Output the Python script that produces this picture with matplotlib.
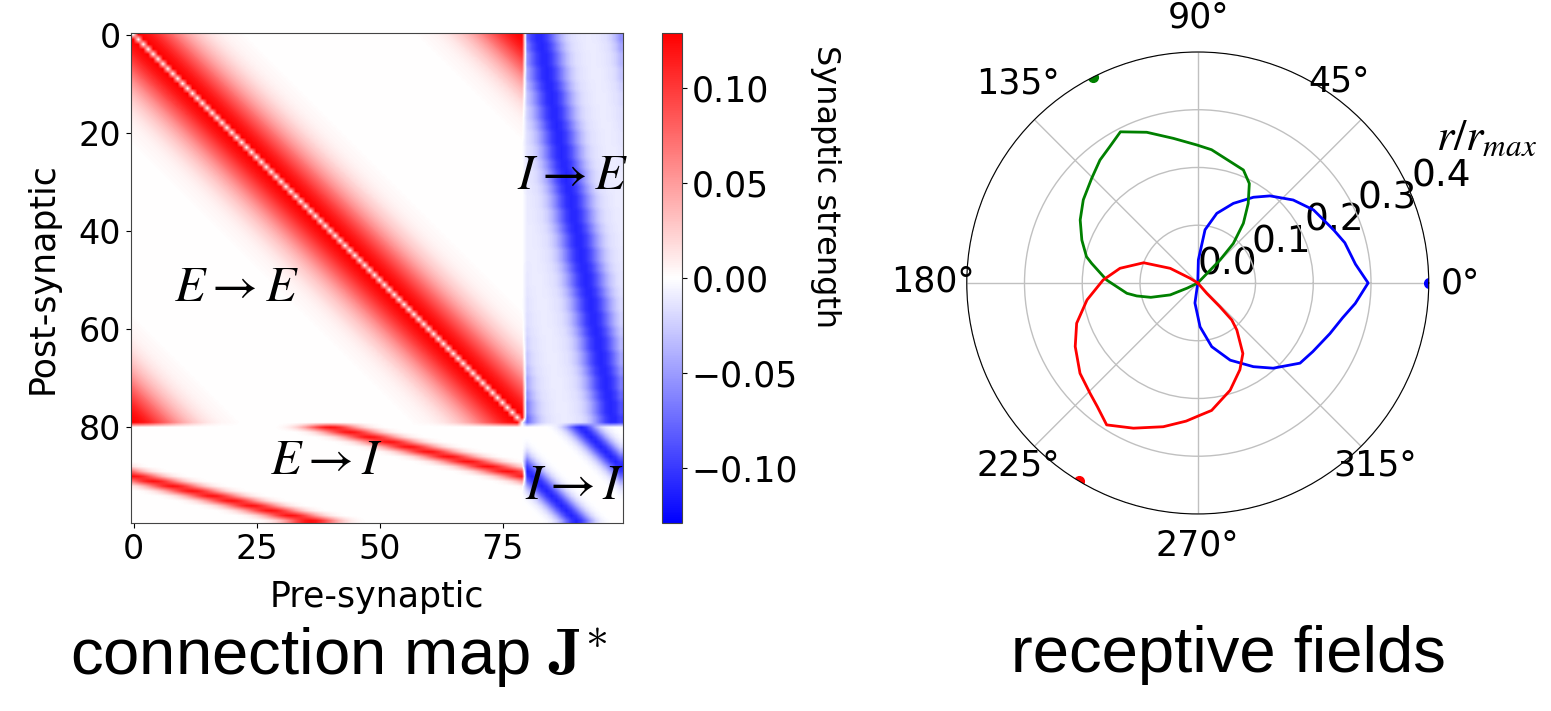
import numpy as np
import matplotlib.pyplot as plt

plt.rcParams['mathtext.fontset'] = 'cm'

n_e = 80
n_i = 20

# strength vs. ring distance
ee_prof = [0.0, 0.129, 0.125, 0.120, 0.113, 0.104, 0.094, 0.084, 0.074, 0.063,
           0.053, 0.044, 0.036, 0.029, 0.023, 0.018, 0.013, 0.010, 0.007, 0.005,
           0.004, 0.003, 0.002]
ei_prof = [0.122, 0.118, 0.106, 0.089, 0.070, 0.051, 0.035, 0.022, 0.013, 0.007,
           0.003, 0.001]
# I->E in half-column steps (0, 0.5, ... 10)
ie_prof = [-0.110, -0.108, -0.104, -0.097, -0.088, -0.077, -0.066, -0.055, -0.045,
           -0.036, -0.029, -0.023, -0.019, -0.016, -0.014, -0.013, -0.012, -0.011,
           -0.010, -0.010, -0.010]
ii_prof = [-0.112, -0.100, -0.075, -0.045, -0.022, -0.009, -0.003, 0.0, 0.0, 0.0, 0.0]

ei_shift = 40     # E column of the band at the first I row
ei_step = 4       # E columns per I row
ie_start = 2.5    # I column of the band at the first E row
ie_step = 0.19    # I columns per E row
ii_shift = 11

# receptive fields (angle in degrees, r / r_max)
blue_th = [-100, -98, -87, -77.6, -67.2, -56.4, -48.5, -38.1, -30.8, -21, -13.5,
           -7.4, 0, 6.8, 15.3, 21.1, 32.3, 41, 50.3, 57, 65.9, 74.7, 82.2, 88.5, 93]
blue_r = [0, 0.035, 0.076, 0.113, 0.145, 0.174, 0.197, 0.225, 0.232, 0.245, 0.258,
          0.275, 0.295, 0.275, 0.264, 0.253, 0.237, 0.219, 0.196, 0.177, 0.151,
          0.125, 0.093, 0.04, 0]
green_th = [45, 45.9, 48, 52.6, 57.6, 62.6, 68, 84.1, 90.4, 99.6, 108.7, 117.1,
            122.8, 128.5, 135.4, 144, 151.8, 159.7, 166.7, 169.5, 178.1, 188.3,
            192, 197, 203.4, 206, 207]
green_r = [0, 0.055, 0.092, 0.13, 0.163, 0.194, 0.211, 0.232, 0.239, 0.254, 0.2755,
           0.294, 0.281, 0.272, 0.258, 0.245, 0.231, 0.214, 0.198, 0.187, 0.158,
           0.124, 0.108, 0.085, 0.052, 0.02, 0]
red_th = [147, 148.6, 152, 159.5, 169.3, 178.2, 188.7, 198.4, 207.4, 217.5, 225.7,
          231, 237.3, 246.1, 256.5, 265.2, 271, 276.2, 286.8, 295.9, 302.6, 309.7,
          312.6, 313, 311, 312]
red_r = [0, 0.016, 0.054, 0.1, 0.137, 0.164, 0.194, 0.221, 0.239, 0.257, 0.267,
         0.276, 0.292, 0.275, 0.256, 0.24, 0.229, 0.222, 0.194, 0.167, 0.145, 0.106,
         0.087, 0.056, 0.024, 0]
stim_th = [0, 117, 239]
stim_col = ['b', 'g', 'r']

theta_labels = ['0°', '45°', '90°', '135°', '180°', '225°', '270°', '315°']
theta_label_px = [(1460, 283), (1339, 82), (1198, 18), (1018, 83),
                  (933, 281), (1018, 466), (1197, 545), (1375, 466)]


def ring_dist(a, b, n):
	d = np.abs(a - b) % n
	return np.minimum(d, n - d)


def lookup(prof, idx):
	idx = np.asarray(idx).astype(int)
	out = np.zeros(idx.shape)
	ok = idx < len(prof)
	out[ok] = np.asarray(prof)[idx[ok]]
	return out


N = n_e + n_i
J = np.zeros((N, N))
ie_idx = np.arange(n_e)
ii_idx = np.arange(n_i)

# E -> E
d = ring_dist(ie_idx[:, None], ie_idx[None, :], n_e)
J[:n_e, :n_e] = lookup(ee_prof, d)
# E -> I
for k in range(n_i):
	c = (ei_shift + ei_step * k) % n_e
	J[n_e + k, :n_e] = lookup(ei_prof, np.round(ring_dist(ie_idx, c, n_e)))
# I -> E
for i in range(n_e):
	c = ie_start + ie_step * i
	J[i, n_e:] = lookup(ie_prof, np.round(2 * ring_dist(ii_idx, c, n_i)))
# I -> I
for k in range(n_i):
	c = (k + ii_shift) % n_i
	J[n_e + k, n_e:] = lookup(ii_prof, ring_dist(ii_idx, c, n_i))

W, H = 1551, 711
fig = plt.figure(figsize=(W / 100, H / 100), dpi=100)

ax = fig.add_axes([0.0845, 0.2644, 0.3172, 0.6892])
vmax = 0.129
im = ax.imshow(J, cmap='bwr', vmin=-vmax, vmax=vmax, aspect='auto',
               interpolation='bilinear')
ax.set_xticks([0, 25, 50, 75])
ax.set_yticks([0, 20, 40, 60, 80])
ax.tick_params(labelsize=24)
ax.set_xlabel('Pre-synaptic', fontsize=25, labelpad=10)
ax.set_ylabel('Post-synaptic', fontsize=25, labelpad=14)
for s in ax.spines.values():
	s.set_color('#444444')

lab_kw = dict(fontsize=36, ha='center', va='center', math_fontfamily='stix')
ax.text(21, 51.3, r'$E \rightarrow E$', **lab_kw)
ax.text(89.3, 28.4, r'$I \rightarrow E$', **lab_kw)
ax.text(39.2, 86.6, r'$E \rightarrow I$', **lab_kw)
ax.text(89.7, 91.7, r'$I \rightarrow I$', **lab_kw)

cax = fig.add_axes([0.4268, 0.2644, 0.0129, 0.6892])
cb = fig.colorbar(im, cax=cax)
cb.set_ticks([-0.1, -0.05, 0, 0.05, 0.1])
cb.ax.tick_params(labelsize=25)
cb.outline.set_edgecolor('#444444')
fig.text(825 / W, 1 - 187 / H, 'Synaptic strength', rotation=270,
         fontsize=23, ha='center', va='center')

# polar panel
pax = fig.add_axes([0.6233, 0.2771, 0.2979, 0.6498], projection='polar')
pax.plot(np.deg2rad(blue_th), blue_r, color='b', lw=2)
pax.plot(np.deg2rad(green_th), green_r, color='g', lw=2)
pax.plot(np.deg2rad(red_th), red_r, color='r', lw=2)
for t, c in zip(stim_th, stim_col):
	pax.plot(np.deg2rad(t), 0.4, 'o', color=c, ms=7)
pax.set_rmax(0.4)
pax.set_rticks([0.0, 0.1, 0.2, 0.3, 0.4])
pax.set_yticklabels(['0.0', '0.1', '0.2', '0.3', '0.4'])
pax.set_xticks(np.deg2rad(np.arange(0, 360, 45)))
pax.set_xticklabels([])
pax.tick_params(axis='y', labelsize=27)
pax.grid(color='#c0c0c0', lw=1)
for lab, (px, py) in zip(theta_labels, theta_label_px):
	fig.text(px / W, 1 - py / H, lab, fontsize=25, ha='center', va='center')
fig.text(1486 / W, 1 - 138 / H, r'$r/r_{max}$', fontsize=32,
         ha='center', va='center', math_fontfamily='stix')

fig.text(339 / W, 1 - 657 / H, r'connection map $\mathbf{J}^{*}$',
         fontsize=47, family='Liberation Sans', ha='center', va='center')
fig.text(1228 / W, 1 - 655 / H, 'receptive fields',
         fontsize=47, family='Liberation Sans', ha='center', va='center')

fig.savefig('out.png', dpi=100)
